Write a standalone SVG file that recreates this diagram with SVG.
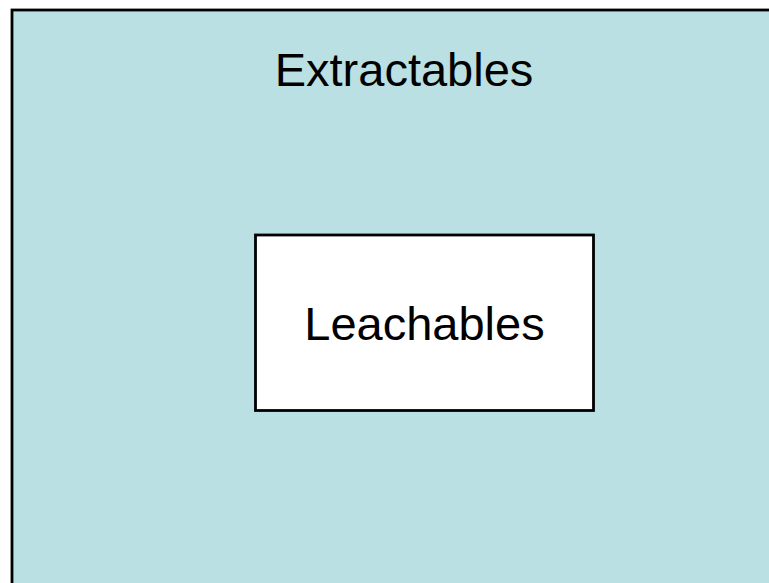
<svg xmlns="http://www.w3.org/2000/svg" width="769" height="583" viewBox="0 0 769 583">
<style>
.box{stroke:#000;stroke-width:2.8}
.lbl{font-family:"Liberation Sans",Arial,sans-serif;font-size:47px;fill:#000;text-anchor:middle}
</style>
<rect width="769" height="583" fill="#ffffff"/>
<g id="extractables">
<rect class="box" x="12" y="10" width="770" height="590" fill="#BAE0E3"/>
<text class="lbl" x="404" y="86">Extractables</text>
</g>
<g id="leachables">
<rect class="box" x="255.5" y="235" width="338" height="175.5" fill="#ffffff"/>
<text class="lbl" x="424.5" y="339.5">Leachables</text>
</g>
<g id="connectors"></g>
</svg>
